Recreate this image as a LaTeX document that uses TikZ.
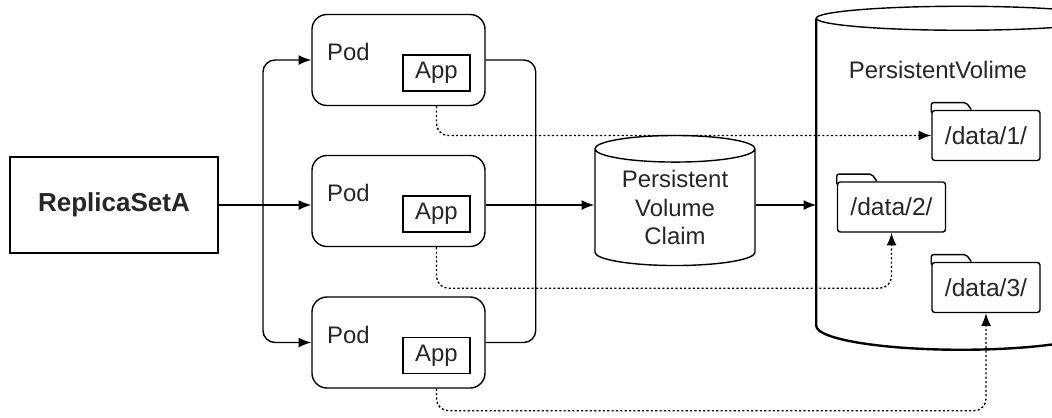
\documentclass[tikz,border=0pt]{standalone}
\usepackage{fontspec}
\setmainfont{Liberation Sans}
\usetikzlibrary{arrows.meta,positioning,shapes.geometric}

\begin{document}
\begin{tikzpicture}[x=0.025cm, y=0.025cm, >={Latex[length=9pt,width=7pt]},
    line width=1pt, font=\fontsize{17}{20}\selectfont, text=black!85,
    rsbox/.style={draw, inner sep=0pt, minimum width=5.2cm, minimum height=2.4cm,
      font=\fontsize{18.5}{22}\selectfont\bfseries},
    podbox/.style={draw, rounded corners=0.375cm, inner sep=0pt,
      minimum width=4.325cm, minimum height=2.275cm},
    appbox/.style={draw, inner sep=0pt, minimum width=1.675cm, minimum height=0.9cm},
    disk/.style={draw, cylinder, shape border rotate=90, inner sep=0pt},
    folder/.style={draw, rounded corners=2pt, inner sep=0pt,
      minimum width=2.7cm, minimum height=1.25cm, font=\fontsize{17.5}{20}\selectfont},
    dots/.style={dash pattern=on 1.5pt off 1.6pt, rounded corners=0.3cm}]

  \useasboundingbox (0,0) rectangle (1052,-417);

  % replica set and its three pods
  \node[rsbox] (rs) at (114,-205) {ReplicaSetA};
  \foreach \i/\py in {1/60,2/201,3/342.5} {
    \node[podbox] (pod\i) at (398.5,-\py) {};
    \node (podlbl\i) at ([shift={(-50,8)}]pod\i.center) {Pod};
    \node[appbox] (app\i) at ([shift={(38,-13)}]pod\i.center) {App};
  }

  % claim
  \node[disk, aspect=0.25, minimum width=4cm, minimum height=3.25cm, align=center]
    (pvc) at (675,-207.5) {Persistent\\Volume\\Claim};

  % volume: body box, outline drawn by hand
  \node[inner sep=0pt, minimum width=7.25cm, minimum height=7.65cm] (pv) at (962,-172) {};
  \draw (pv.north west) arc[start angle=180, end angle=540, x radius=3.625cm, y radius=0.3cm];
  \draw[line width=1.7pt] (pv.north west) -- (pv.south west)
    arc[start angle=180, end angle=360, x radius=3.625cm, y radius=0.6cm] -- (pv.north east);
  \node (pvlbl) at (938,-70) {PersistentVolime};

  \node[folder] (dir1) at (986,-135.5) {/data/1/};
  \node[folder] (dir2) at (891.5,-207) {/data/2/};
  \node[folder] (dir3) at (986,-287.5) {/data/3/};
  \foreach \d in {dir1,dir2,dir3}
    \draw[rounded corners=1.5pt] ([yshift=-2pt]\d.north west) -- ++(0,10) -- ++(35,0) -- ++(5,-7);

  % controller links
  \coordinate (fork) at (263,-205);
  \draw[->] (rs.east) -- (rs.east -| pod2.west);
  \draw[->, rounded corners=0.3cm] (fork) |- (pod1.west);
  \draw[->, rounded corners=0.3cm] (fork) |- (pod3.west);
  \draw[rounded corners=0.3cm] (pod1.east) -- ++(50,0) |- (pod3.east);
  \draw[->] (rs.east -| pod2.east) -- (rs.east -| pvc.west);
  \draw[->] (rs.east -| pvc.east) -- (rs.east -| pv.west);

  % mounts
  \draw[dots, ->] (pod1.south -| app1) |- (dir1.west);
  \draw[dots, ->] (pod2.south -| app2) -- ++(0,-41) -| (dir2.south);
  \draw[dots, ->] (pod3.south -| app3) -- ++(0,-22) -| (dir3.south);
\end{tikzpicture}
\end{document}
